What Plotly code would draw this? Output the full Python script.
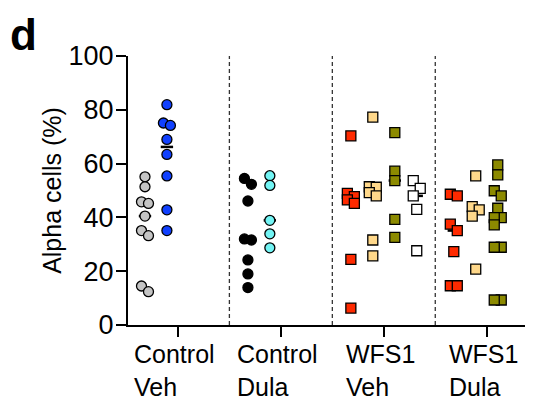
import numpy as np
import plotly.graph_objects as go

# ---------------- data ----------------
categories = ["Control<br>Veh", "Control<br>Dula", "WFS1<br>Veh", "WFS1<br>Dula"]
y_ticks = [0, 20, 40, 60, 80, 100]

ctrl_veh_grey = [55.1, 51.4, 45.8, 45.2, 40.5, 35.1, 33.2, 14.5, 12.4]
ctrl_veh_blue = [81.9, 75.1, 74.2, 69.0, 63.4, 55.4, 42.8, 35.1]
ctrl_dula_black = [54.5, 52.3, 46.1, 32.0, 31.6, 24.2, 19.0, 13.9]
ctrl_dula_cyan = [55.5, 51.9, 38.9, 33.9, 28.7]
wfs1_veh_red = [70.3, 48.9, 47.7, 46.5, 45.2, 24.4, 6.3]
wfs1_veh_orange = [77.3, 51.4, 51.2, 49.2, 48.0, 31.6, 25.7]
wfs1_veh_olive = [71.5, 57.2, 53.7, 39.3, 32.6]
wfs1_veh_white = [53.7, 50.8, 48.0, 43.0, 27.6]
wfs1_dula_red = [48.6, 48.0, 37.5, 35.1, 27.3, 14.6, 14.6]
wfs1_dula_orange = [55.4, 44.0, 42.8, 40.5, 20.8]
wfs1_dula_olive = [59.5, 55.8, 49.9, 48.0, 43.4, 39.9, 39.9, 37.2, 28.9, 28.9, 9.3, 9.3]

# (values, category index, slot index, symbol, fill colour)
groups = [
    (ctrl_veh_grey, 0, 0, "circle", "#c4c4c4"),
    (ctrl_veh_blue, 0, 1, "circle", "#1040ff"),
    (ctrl_dula_black, 1, 0, "circle", "#000000"),
    (ctrl_dula_cyan, 1, 1, "circle", "#72f4f4"),
    (wfs1_veh_red, 2, 0, "square", "#ff2a00"),
    (wfs1_veh_orange, 2, 1, "square", "#ffd88a"),
    (wfs1_veh_olive, 2, 2, "square", "#8c8a00"),
    (wfs1_veh_white, 2, 3, "square", "#ffffff"),
    (wfs1_dula_red, 3, 0, "square", "#ff2a00"),
    (wfs1_dula_orange, 3, 1, "square", "#ffd88a"),
    (wfs1_dula_olive, 3, 2, "square", "#8c8a00"),
]

# ---------------- geometry helpers ----------------
PX_PER_X = 103.0      # pixels per category unit
PX_PER_Y = 2.69       # pixels per % unit
slot_offsets = [-0.32, -0.107, 0.107, 0.32]
jit = 3.5 / PX_PER_X


def swarm(vals):
    """Small alternating sideways offset for points that nearly coincide."""
    order = np.argsort(vals)[::-1]
    offs = np.zeros(len(vals))
    cluster = [order[0]]
    clusters = []
    for a, b in zip(order[:-1], order[1:]):
        if (vals[a] - vals[b]) * PX_PER_Y < 8:
            cluster.append(b)
        else:
            clusters.append(cluster)
            cluster = [b]
    clusters.append(cluster)
    for cl in clusters:
        if len(cl) > 1:
            for k, idx in enumerate(cl):
                offs[idx] = -jit if k % 2 == 0 else jit
    return offs


fig = go.Figure()

# median lines first (behind markers)
for vals, ci, si, sym, col in groups:
    cx = ci + slot_offsets[si]
    med = float(np.median(vals))
    fig.add_trace(go.Scatter(
        x=[cx - 0.06, cx + 0.06], y=[med, med], mode="lines",
        line=dict(color="black", width=2.5), showlegend=False, hoverinfo="skip"))

for vals, ci, si, sym, col in groups:
    v = np.array(vals, dtype=float)
    xs = ci + slot_offsets[si] + swarm(v)
    fig.add_trace(go.Scatter(
        x=xs, y=v, mode="markers",
        marker=dict(symbol=sym, size=10, color=col,
                    line=dict(color="black", width=1.3)),
        showlegend=False))

FONT = "Liberation Sans, Arial, sans-serif"

shapes = []
for i in range(len(categories) - 1):
    shapes.append(dict(type="line", xref="x", yref="y", x0=i + 0.5, x1=i + 0.5,
                       y0=0, y1=100, line=dict(color="#333333", width=1.3, dash="4px,3px")))

annotations = []
for i, c in enumerate(categories):
    annotations.append(dict(x=i, xref="x", y=-0.05, yref="paper", text=c,
                            showarrow=False, xanchor="center", yanchor="top",
                            align="left", xshift=-3,
                            font=dict(family=FONT, size=25, color="black")))
annotations.append(dict(x=-0.296, xref="paper", y=1.176, yref="paper", text="<b>d</b>",
                        showarrow=False, xanchor="left", yanchor="top", borderpad=0,
                        font=dict(family=FONT, size=44, color="black")))

fig.update_layout(
    width=525, height=393,
    margin=dict(l=120, r=2, t=48, b=76, pad=0),
    paper_bgcolor="white", plot_bgcolor="white",
    font=dict(family=FONT, size=25, color="black"),
    shapes=shapes, annotations=annotations,
    xaxis=dict(range=[-0.485, 3.43], tickvals=[0, 1, 2, 3], showticklabels=False,
               ticks="outside", ticklen=10, tickwidth=2, tickcolor="black",
               showline=True, linewidth=2, linecolor="black",
               showgrid=False, zeroline=False),
    yaxis=dict(range=[0, 100], tickvals=y_ticks, ticks="outside", ticklen=10,
               tickwidth=2, tickcolor="black", showline=True, linewidth=2,
               linecolor="black", showgrid=False, zeroline=False,
               ticklabelstandoff=-3,
               tickfont=dict(family=FONT, size=27),
               title=dict(text="Alpha cells (%)", font=dict(family=FONT, size=25),
                          standoff=0)),
)

fig.write_html("out.html")
